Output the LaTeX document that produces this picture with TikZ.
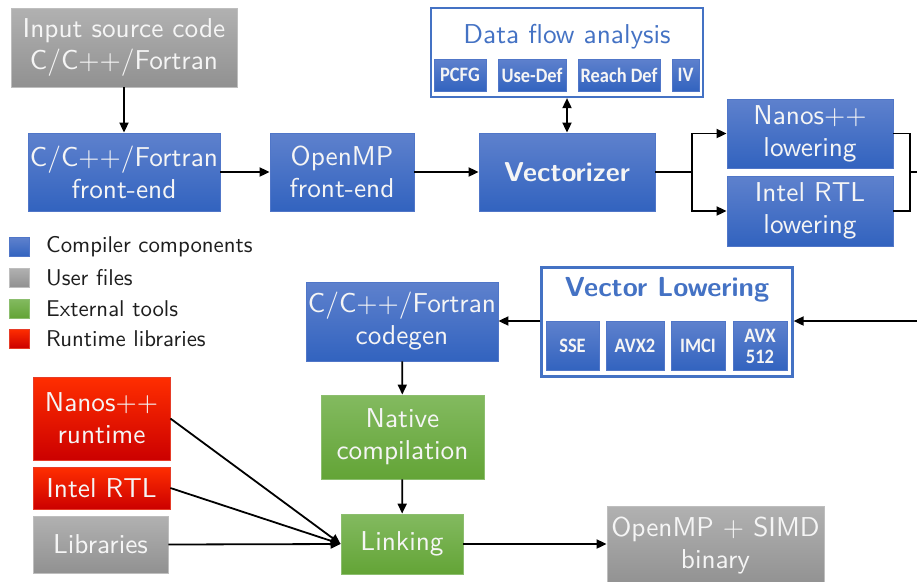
\documentclass[tikz,border=0pt]{standalone}
\usepackage{fontspec}
\setsansfont{lmsans10-regular.otf}[BoldFont=lmsans10-bold.otf]
\newfontfamily\tagfont{Carlito}[FakeStretch=0.9]
\usetikzlibrary{arrows.meta}

% palette
\definecolor{bluetop}{RGB}{94,129,205}
\definecolor{bluebot}{RGB}{50,99,191}
\definecolor{bluebd}{RGB}{80,118,200}
\definecolor{framebd}{RGB}{68,114,196}
\definecolor{graytop}{RGB}{177,177,177}
\definecolor{graybot}{RGB}{145,145,145}
\definecolor{graybd}{RGB}{190,190,190}
\definecolor{greentop}{RGB}{131,186,96}
\definecolor{greenbot}{RGB}{99,164,54}
\definecolor{greenbd}{RGB}{140,190,110}
\definecolor{redtop}{RGB}{255,46,0}
\definecolor{redbot}{RGB}{204,0,0}
\definecolor{redbd}{RGB}{230,60,40}
\definecolor{boxtext}{RGB}{245,245,245}
\definecolor{legtext}{RGB}{30,30,30}

\begin{document}
\begin{tikzpicture}[x=1pt,y=-1pt,
  sz/.style 2 args={minimum width=#1pt, minimum height=#2pt},
  box/.style={line width=0.8pt, inner sep=0pt, align=center, text=boxtext,
    font=\sffamily\fontsize{27.3}{32}\selectfont},
  bluebox/.style={box, top color=bluetop, bottom color=bluebot, draw=bluebd},
  graybox/.style={box, top color=graytop, bottom color=graybot, draw=graybd},
  greenbox/.style={box, top color=greentop, bottom color=greenbot, draw=greenbd},
  redbox/.style={box, top color=redtop, bottom color=redbot, draw=redbd},
  tagbox/.style={bluebox, font=\tagfont\bfseries\fontsize{20.5}{21}\selectfont},
  frame/.style={draw=framebd, line width=2.2pt, fill=white, inner sep=0pt},
  frametitle/.style={text=framebd, inner sep=0pt},
  legsq/.style={inner sep=0pt, sz={20}{19}, line width=0.5pt},
  legtxt/.style={anchor=west, inner sep=0pt, text=legtext,
    font=\sffamily\fontsize{22.8}{26}\selectfont},
  arr/.style={line width=1.8pt, -{Triangle[length=10pt,width=9pt]}},
  dblarr/.style={line width=1.8pt, {Triangle[length=10pt,width=9pt]}-{Triangle[length=10pt,width=9pt]}},
  wire/.style={line width=1.8pt}
]
\useasboundingbox (0,0) rectangle (917,581);
\clip (0,0) rectangle (917,581);

% front part of the pipeline
\node[graybox, sz={226}{79}] (inp) at (124,47.5) {Input source code\\C/C++/Fortran};
\node[bluebox, sz={192}{78}] (fe) at (124,172) {C/C++/Fortran\\front-end};
\node[bluebox, sz={144}{78}] (omp) at (342,172) {OpenMP\\front-end};
\node[bluebox, sz={176}{78}, font=\sffamily\bfseries\fontsize{27.3}{32}\selectfont] (vec) at (567,172) {Vectorizer};

% data flow analysis group
\node[frame, sz={272}{89}] (dfa) at (567,52.5) {};
\node[frametitle, font=\sffamily\fontsize{27.3}{32}\selectfont] (dfat) at (567,37) {Data flow analysis};
\node[tagbox, sz={52}{32}] (pcfg) at (460,75) {PCFG};
\node[tagbox, sz={68}{32}] (ud) at (532,75) {Use-Def};
\node[tagbox, sz={82}{32}] (rd) at (619,75) {Reach Def};
\node[tagbox, sz={27}{32}] (iv) at (685.5,75) {IV};

% runtime lowering
\node[bluebox, sz={166}{69}] (nlow) at (810,133.5) {Nanos++\\lowering};
\node[bluebox, sz={166}{70}] (ilow) at (810,211) {Intel RTL\\lowering};

% legend
\node[legsq, top color=bluetop, bottom color=bluebot, draw=bluebd] (lg1) at (19,247) {};
\node[legsq, top color=graytop, bottom color=graybot, draw=graybd] (lg2) at (19,277.5) {};
\node[legsq, top color=greentop, bottom color=greenbot, draw=greenbd] (lg3) at (19,308.5) {};
\node[legsq, top color=redtop, bottom color=redbot, draw=redbd] (lg4) at (19,338.5) {};
\node[legtxt] (lt1) at (46,247) {Compiler components};
\node[legtxt] (lt2) at (46,277.5) {User files};
\node[legtxt] (lt3) at (46,308.5) {External tools};
\node[legtxt] (lt4) at (46,338.5) {Runtime libraries};

% back end
\node[bluebox, sz={192}{79}] (cg) at (402,321.5) {C/C++/Fortran\\codegen};
\node[frame, sz={251}{109}] (vl) at (667,322) {};
\node[frametitle, font=\sffamily\bfseries\fontsize{27.5}{32}\selectfont] (vlt) at (667,290) {Vector Lowering};
\node[tagbox, sz={53}{49}] (sse) at (572.5,346) {SSE};
\node[tagbox, sz={58}{49}] (avx2) at (635,346) {AVX2};
\node[tagbox, sz={54}{49}] (imci) at (698,346) {IMCI};
\node[tagbox, sz={54}{49}] (avx5) at (760,346) {AVX\\512};
\node[greenbox, sz={163}{84}] (nat) at (402.5,437) {Native\\compilation};
\node[greenbox, sz={122}{60}] (lnk) at (402,544) {Linking};
\node[graybox, sz={217}{80}] (bin) at (715.5,546) {OpenMP + SIMD\\binary};

% runtime libraries
\node[redbox, sz={137}{83}] (nrt) at (101.5,418.5) {Nanos++\\runtime};
\node[redbox, sz={137}{42}] (irt) at (101.5,488) {Intel RTL};
\node[graybox, sz={135}{57}] (libs) at (100.5,544.5) {Libraries};

% connectors
\coordinate (split) at (692,172);
\coordinate (merge) at (910,172);
\coordinate (outR) at (925,172);
\coordinate (inR) at (925,321);

\draw[arr] (inp) -- (fe);
\draw[arr] (fe) -- (omp);
\draw[arr] (omp) -- (vec);
\draw[dblarr] (vec) -- (dfa);
\draw[wire] (vec.east) -- (split);
\draw[arr] (split) |- (nlow.west);
\draw[arr] (split) |- (ilow.west);
\draw[wire] (nlow.east) -| (merge);
\draw[wire] (ilow.east) -| (merge);
\draw[wire] (merge) -- (outR);
\draw[arr] (inR) -- (vl.east |- inR);
\draw[arr] (vl.west |- inR) -- (cg.east |- inR);
\draw[arr] (cg) -- (nat);
\draw[arr] (nat) -- (lnk);
\draw[arr] (nrt.east) -- (lnk.west);
\draw[arr] (irt.east) -- (lnk.west);
\draw[arr] (libs.east) -- (lnk.west);
\draw[arr] (lnk.east) -- (lnk.east -| bin.west);
\end{tikzpicture}
\end{document}
